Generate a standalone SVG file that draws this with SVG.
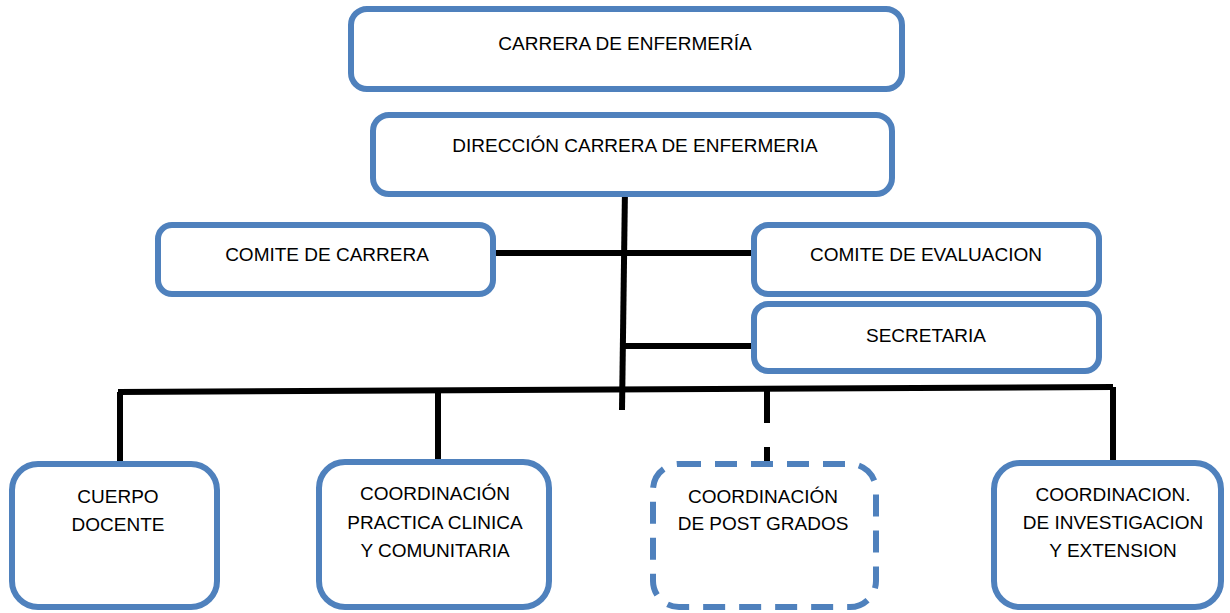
<svg xmlns="http://www.w3.org/2000/svg" width="1230" height="613" viewBox="0 0 1230 613">
<style>
.box{fill:#fff;stroke:#4f81bd;stroke-width:6}
.dash{stroke-dasharray:22 14}
.t{font-family:"Liberation Sans",Arial,sans-serif;font-size:19px;fill:#000;text-anchor:middle}
.c{stroke:#000;stroke-width:6;fill:none}
</style>
<rect width="1230" height="613" fill="#fff"/>
<g id="connectors">
<line class="c" x1="625" y1="188" x2="622" y2="410"/>
<line class="c" x1="494" y1="253" x2="753" y2="253"/>
<line class="c" x1="623" y1="346" x2="753" y2="346"/>
<line class="c" x1="118" y1="392" x2="1113" y2="387"/>
<line class="c" x1="120" y1="392" x2="120" y2="467"/>
<line class="c" x1="438" y1="391" x2="438" y2="466"/>
<line class="c" x1="767" y1="390" x2="767" y2="423"/>
<line class="c" x1="767" y1="447" x2="767" y2="466"/>
<line class="c" x1="1113" y1="387" x2="1113" y2="462"/>
</g>
<g id="n1"><rect class="box" x="351" y="9" width="551" height="80" rx="16"/><text class="t" x="625" y="50">CARRERA DE ENFERMERÍA</text></g>
<g id="n2"><rect class="box" x="373" y="115" width="519" height="79" rx="16"/><text class="t" x="635" y="152">DIRECCIÓN CARRERA DE ENFERMERIA</text></g>
<g id="n3"><rect class="box" x="158" y="225" width="335" height="69" rx="14"/><text class="t" x="327" y="261">COMITE DE CARRERA</text></g>
<g id="n4"><rect class="box" x="754" y="225" width="345" height="69" rx="14"/><text class="t" x="926" y="261">COMITE DE EVALUACION</text></g>
<g id="n5"><rect class="box" x="754" y="304" width="345" height="67" rx="14"/><text class="t" x="926" y="342">SECRETARIA</text></g>
<g id="n6"><rect class="box" x="12" y="464" width="205" height="143" rx="26"/><text class="t" x="118" y="503">CUERPO</text><text class="t" x="118" y="531">DOCENTE</text></g>
<g id="n7"><rect class="box" x="319" y="462" width="230" height="145" rx="26"/><text class="t" x="435" y="500">COORDINACIÓN</text><text class="t" x="435" y="529">PRACTICA CLINICA</text><text class="t" x="435" y="557">Y COMUNITARIA</text></g>
<g id="n8"><rect class="box dash" x="653" y="464" width="223" height="143" rx="26"/><text class="t" x="763" y="503">COORDINACIÓN</text><text class="t" x="763" y="530">DE POST GRADOS</text></g>
<g id="n9"><rect class="box" x="994" y="463" width="227" height="144" rx="26"/><text class="t" x="1113" y="501">COORDINACION.</text><text class="t" x="1113" y="529">DE INVESTIGACION</text><text class="t" x="1113" y="557">Y EXTENSION</text></g>
</svg>
